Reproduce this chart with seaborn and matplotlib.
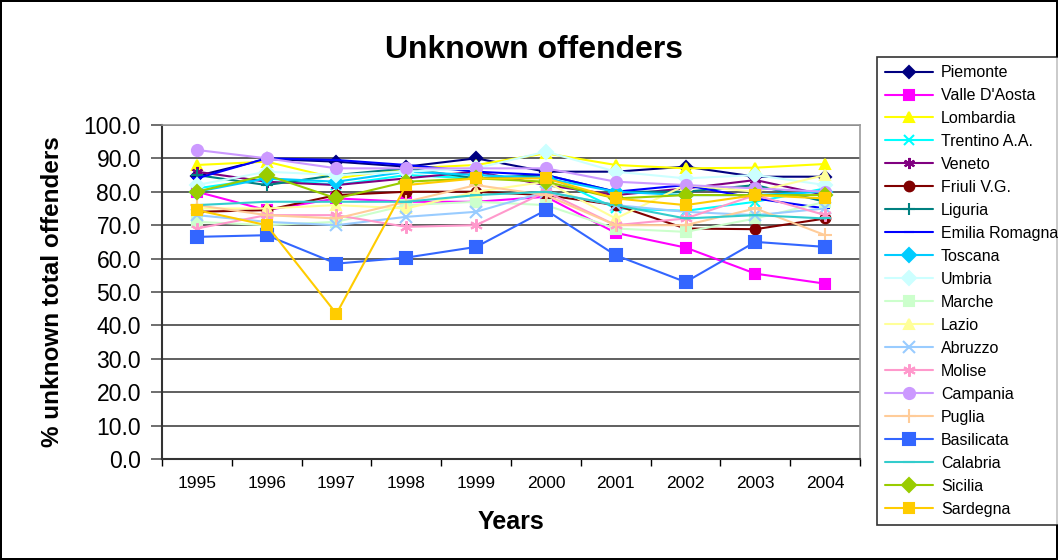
import matplotlib
matplotlib.use("Agg")
import matplotlib.pyplot as plt
import seaborn as sns
import pandas as pd

years = ["1995", "1996", "1997", "1998", "1999", "2000", "2001", "2002", "2003", "2004"]

piemonte = [84.7, 89.8, 89.0, 87.5, 90.0, 86.0, 86.0, 87.5, 84.5, 84.5]
valle_daosta = [80.0, 74.5, 78.0, 77.0, 77.0, 78.5, 67.7, 63.3, 55.5, 52.5]
lombardia = [88.0, 89.0, 84.0, 87.0, 88.0, 91.5, 88.0, 87.0, 87.2, 88.3]
trentino = [81.0, 84.0, 82.0, 85.0, 84.0, 85.0, 75.0, 74.3, 77.0, 81.0]
veneto = [86.0, 83.0, 82.0, 84.0, 86.0, 82.0, 79.0, 81.0, 83.5, 79.0]
friuli = [74.0, 74.5, 79.0, 80.0, 80.0, 79.0, 76.0, 69.0, 68.8, 72.0]
liguria = [85.0, 82.0, 85.0, 87.0, 84.0, 85.0, 80.0, 80.0, 82.0, 77.0]
emilia_romagna = [84.0, 90.0, 89.5, 88.0, 86.0, 85.0, 80.0, 82.0, 78.0, 75.0]
toscana = [80.0, 84.0, 83.0, 86.0, 85.0, 84.0, 80.0, 79.0, 79.0, 80.0]
umbria = [82.0, 86.0, 85.0, 86.0, 87.0, 92.0, 86.0, 84.0, 85.0, 82.0]
marche = [71.0, 70.0, 71.0, 76.0, 77.0, 76.0, 69.0, 68.0, 72.0, 77.0]
lazio = [75.0, 75.0, 76.0, 75.0, 80.0, 83.0, 72.0, 82.0, 80.0, 85.0]
abruzzo = [73.0, 71.0, 70.0, 72.5, 74.0, 80.0, 76.0, 74.0, 73.0, 75.0]
molise = [69.0, 73.0, 73.0, 69.5, 70.0, 80.0, 70.0, 72.0, 79.0, 73.0]
campania = [92.5, 90.0, 87.0, 87.0, 87.0, 87.0, 83.0, 82.0, 81.0, 80.0]
puglia = [76.0, 73.0, 72.0, 77.0, 82.0, 79.0, 70.0, 70.0, 75.0, 67.0]
basilicata = [66.5, 67.0, 58.5, 60.3, 63.5, 74.5, 61.0, 53.0, 65.0, 63.5]
calabria = [76.0, 77.0, 77.0, 77.0, 79.0, 80.0, 76.0, 72.0, 73.0, 72.0]
sicilia = [80.0, 85.0, 78.0, 83.0, 84.0, 83.0, 78.0, 79.0, 79.0, 79.0]
sardegna = [74.5, 70.0, 43.5, 82.0, 84.0, 84.0, 78.0, 76.0, 79.0, 78.0]

regions = ["Piemonte", "Valle D'Aosta", "Lombardia", "Trentino A.A.", "Veneto",
           "Friuli V.G.", "Liguria", "Emilia Romagna", "Toscana", "Umbria",
           "Marche", "Lazio", "Abruzzo", "Molise", "Campania", "Puglia",
           "Basilicata", "Calabria", "Sicilia", "Sardegna"]
series = [piemonte, valle_daosta, lombardia, trentino, veneto, friuli, liguria,
          emilia_romagna, toscana, umbria, marche, lazio, abruzzo, molise,
          campania, puglia, basilicata, calabria, sicilia, sardegna]

asterisk = (6, 2, 0)
styles = {
    "Piemonte": ("#000080", "D", 6),
    "Valle D'Aosta": ("#FF00FF", "s", 7),
    "Lombardia": ("#FFFF00", "^", 7),
    "Trentino A.A.": ("#00FFFF", "x", 7),
    "Veneto": ("#800080", asterisk, 8),
    "Friuli V.G.": ("#800000", "o", 7),
    "Liguria": ("#008080", "+", 9),
    "Emilia Romagna": ("#0000FF", "_", 7),
    "Toscana": ("#00CCFF", "D", 7),
    "Umbria": ("#CCFFFF", "D", 7),
    "Marche": ("#CCFFCC", "s", 7),
    "Lazio": ("#FFFF99", "^", 7),
    "Abruzzo": ("#99CCFF", "x", 8),
    "Molise": ("#FF99CC", asterisk, 9),
    "Campania": ("#CC99FF", "o", 8),
    "Puglia": ("#FFCC99", "+", 10),
    "Basilicata": ("#3366FF", "s", 9),
    "Calabria": ("#33CCCC", "_", 8),
    "Sicilia": ("#99CC00", "D", 7),
    "Sardegna": ("#FFCC00", "s", 7),
}

sns.set_theme(style="white")
plt.rcParams["font.family"] = ["Liberation Sans", "DejaVu Sans"]
plt.rcParams["text.color"] = "black"
plt.rcParams["axes.labelcolor"] = "black"
plt.rcParams["xtick.color"] = "black"
plt.rcParams["ytick.color"] = "black"

fig = plt.figure(figsize=(10.58, 5.6), dpi=100)
fig.patch.set_edgecolor("black")
fig.patch.set_linewidth(1.5)
ax = fig.add_axes([0.153, 0.180, 0.660, 0.597])

for name, vals in zip(regions, series):
    color, marker, ms = styles[name]
    df = pd.DataFrame({"pos": range(len(years)), "value": vals})
    sns.lineplot(data=df, x="pos", y="value", ax=ax, color=color,
                 marker=marker, markersize=ms, markeredgecolor=color,
                 markeredgewidth=1.5, linewidth=1.5, label=name)

ax.set_xlim(-0.5, len(years) - 0.5)
ax.set_ylim(0, 100)
ax.set_yticks(range(0, 101, 10))
ax.set_yticklabels([f"{v:.1f}" for v in range(0, 101, 10)], fontsize=16.5)
ax.set_xticks(range(len(years)))
ax.set_xticklabels(years, fontsize=12.5)
ax.set_xticks([i - 0.5 for i in range(len(years) + 1)], minor=True)
ax.tick_params(axis="x", which="major", length=0, pad=12)
ax.tick_params(axis="x", which="minor", length=5, color="black", direction="out", bottom=True)
ax.tick_params(axis="y", which="major", length=8, color="#555555", width=1.2,
               direction="out", left=True, pad=7)
ax.yaxis.grid(True, color="#444444", linewidth=1.2)
ax.set_axisbelow(True)
for side in ["top", "right"]:
    ax.spines[side].set_color("#999999")
    ax.spines[side].set_linewidth(1.2)
for side in ["left", "bottom"]:
    ax.spines[side].set_color("#333333")
    ax.spines[side].set_linewidth(1.5)

ax.set_xlabel("Years", fontsize=18, fontweight="bold", labelpad=14)
ax.set_ylabel("% unknown total offenders", fontsize=17.5, fontweight="bold", labelpad=14)
fig.text(0.505, 0.91, "Unknown offenders", ha="center", va="center",
         fontsize=23, fontweight="bold")

handles, labels = ax.get_legend_handles_labels()
ax.get_legend().remove()
leg = fig.legend(handles, labels, loc="upper left", bbox_to_anchor=(0.829, 0.898),
                 fontsize=11.5, frameon=True, fancybox=False, edgecolor="black",
                 handlelength=3.0, labelspacing=0.5, borderpad=0.5,
                 handletextpad=0.5, borderaxespad=0)
leg.get_frame().set_linewidth(1.2)

fig.savefig("out.png", dpi=100, edgecolor=fig.get_edgecolor())
